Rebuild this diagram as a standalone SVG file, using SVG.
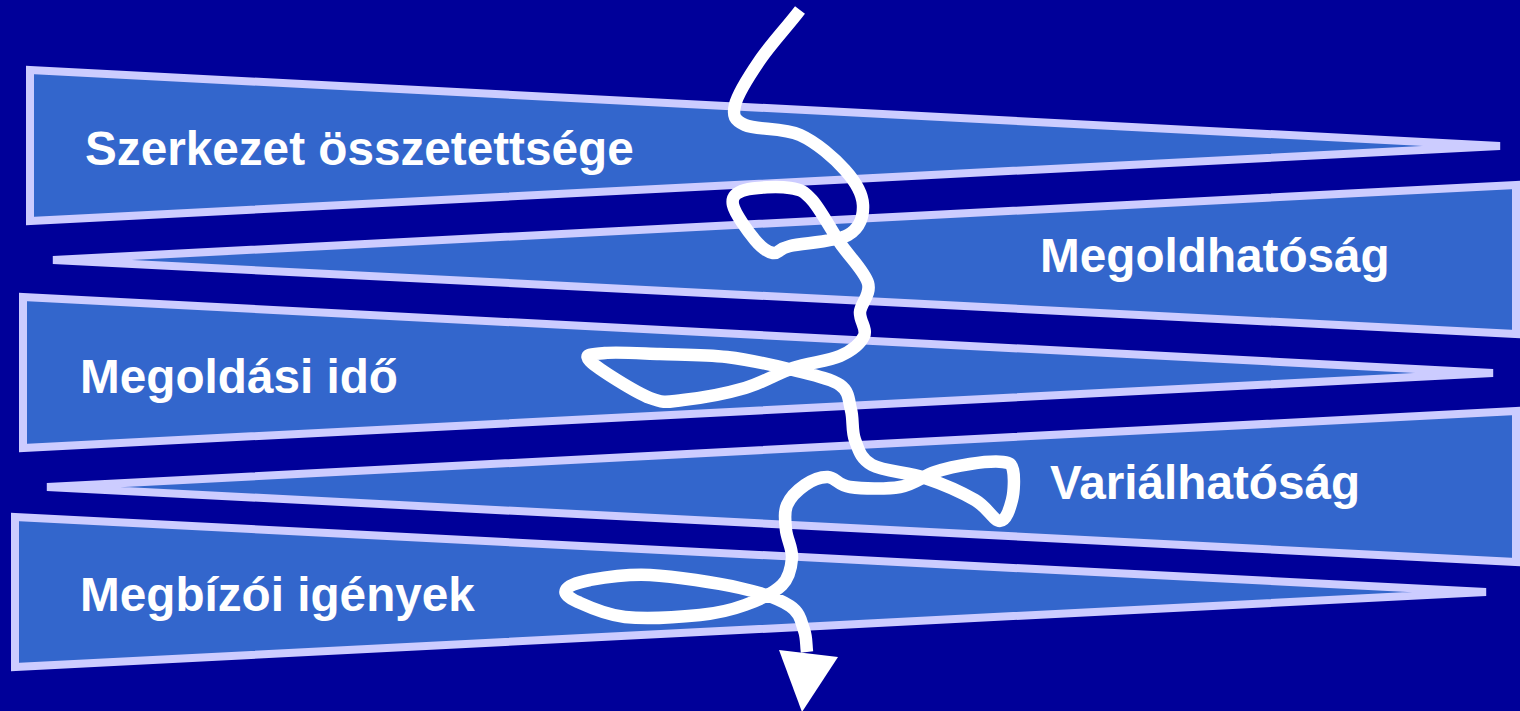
<svg xmlns="http://www.w3.org/2000/svg" width="1520" height="711" viewBox="0 0 1520 711">
  <style>
    .wedge { fill: #3366cc; stroke: #ccccff; stroke-width: 8; stroke-linejoin: miter; }
    .label { font-family: "Liberation Sans", Arial, sans-serif; font-weight: bold; font-size: 47.7px; fill: #ffffff; }
    .trail { fill: none; stroke: #ffffff; stroke-width: 12.5; stroke-linejoin: round; stroke-linecap: butt; }
  </style>
  <rect x="0" y="0" width="1520" height="711" fill="#000099"/>

  <g id="szerkezet">
    <path class="wedge" d="M30,70 L1500,146 L30,221 Z"/>
    <text class="label" x="85" y="165">Szerkezet összetettsége</text>
  </g>
  <g id="megoldhatosag">
    <path class="wedge" d="M1516,185 L53,260 L1516,334 Z"/>
    <text class="label" x="1040" y="272">Megoldhatóság</text>
  </g>
  <g id="megoldasi-ido">
    <path class="wedge" d="M23,297 L1493,373 L23,448 Z"/>
    <text class="label" x="80" y="393">Megoldási idő</text>
  </g>
  <g id="varialhatosag">
    <path class="wedge" d="M1516,411 L47,487 L1516,562 Z"/>
    <text class="label" x="1050" y="499">Variálhatóság</text>
  </g>
  <g id="megbizoi-igenyek">
    <path class="wedge" d="M15,517 L1486,592 L15,667 Z"/>
    <text class="label" x="80" y="611">Megbízói igények</text>
  </g>

  <g id="connectors">
    <path class="trail" d="M800,10 C787,27 770.8,44.2 760,60
      S737.5,94.2 735,105 S734.2,120 745,125 S783.3,127.5 800,135
      S834.5,158.3 845,170 S862.5,194.2 863,205 S860.2,228.2 848,235
      S802.5,243 790,246 S778.8,254 773,253 S761.7,248 755,240
      S734.7,213.3 733,205 S735.5,192.8 745,190 S778.8,186.3 790,188
      S803.7,190.8 812,200 S831,229.7 840,243 S864.7,271.5 868,283
      S860.7,303.2 860,312 S867.3,328.7 864,336 S851.8,350.7 840,356
      S808.8,362.7 793,368 S763.3,382.7 745,388 S698.8,398.3 683,400
      S665,403.8 650,398 S597.5,368.5 590,361 S593.3,354.2 605,353
      S639.7,353.3 660,354 S704.8,354.3 727,357 S774.2,365.3 793,370
      S830.3,378.3 840,385 S848.5,400.8 851,410 S851.5,430.8 855,440
      S860.3,458.7 872,465 S907.8,472.2 925,478 S962.5,492.8 975,500
      S993.8,521 1000,521 S1009.8,508.5 1012,500 S1014.5,476.3 1013,470
      S1010.2,463 1003,462 S981.3,462.3 970,464 S946.7,468.2 935,472
      S914.2,484.5 900,487 S862,488.7 850,487 S835.5,477.3 828,477
      S811.8,480.3 805,485 S790.2,497.5 787,505 S785.2,521.2 786,530
      S792.7,548.8 792,558 S789.8,577.2 782,585 S758.7,600 745,605
      S720,613 700,615 S645.3,619.2 625,617 S587.8,606.5 578,602
      S564,593.7 566,590 S576,582.5 590,580 S625,573.7 650,575
      S716.7,582.8 740,588 S779.3,599 790,606 S801.2,622.3 804,630
      S806,644.7 807,652"/>
    <polygon points="779,650 838,657 802,712" fill="#ffffff"/>
  </g>
</svg>
